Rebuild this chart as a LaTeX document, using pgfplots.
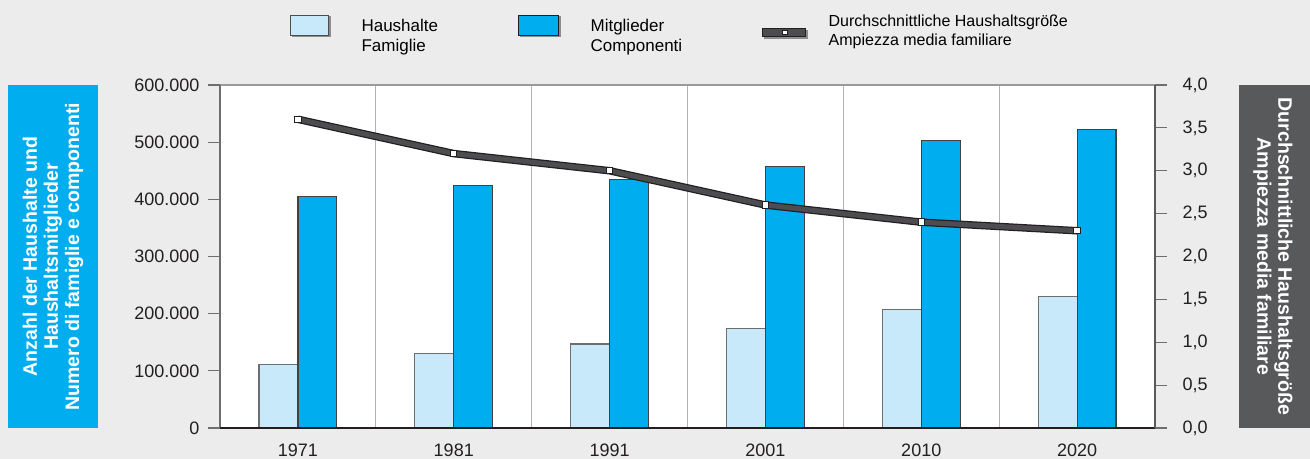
\documentclass[border=0pt]{standalone}
\usepackage{pgfplots}
\pgfplotsset{compat=1.18}
\usepackage{fontspec}
\setmainfont{Liberation Sans}
\definecolor{bg}{HTML}{EBECEB}
\definecolor{lblue}{HTML}{C7E9F9}
\definecolor{dblue}{HTML}{00AEEF}
\definecolor{boxgray}{HTML}{58595B}
\definecolor{linegray}{HTML}{4D4D4F}
\definecolor{txt}{HTML}{231F20}
\definecolor{gridgray}{HTML}{B4B4B4}
\definecolor{tickgray}{HTML}{6D6E70}
\definecolor{topgray}{HTML}{9A9A9A}
\definecolor{shadowc}{HTML}{8C8D8F}

\pgfplotstableread{
x haus mitg
0 111500 405000
1 130700 423700
2 147100 434200
3 173900 457600
4 206600 502500
5 229400 521800
}\bardata
\pgfplotstableread{
x size
0 3.6
1 3.2
2 3.0
3 2.6
4 2.4
5 2.3
}\linedata

\pgfplotsset{
  common/.style={
    at={(220bp,31bp)}, anchor=south west, scale only axis,
    width=935bp, height=343bp, xmin=-0.5, xmax=5.5,
    /pgf/number format/assume math mode=true,
    tick align=outside, major tick length=12bp,
    ticklabel style={font=\fontsize{18bp}{20bp}\selectfont, text=txt},
  }
}

\begin{document}
\begin{tikzpicture}[x=1bp,y=1bp]
\fill[bg] (0,0) rectangle (1310,459);
\useasboundingbox (0,0) rectangle (1310,459);
\fill[dblue] (8,31) rectangle (98,374);
\node[rotate=90, align=center, text=white, font=\fontsize{19.5bp}{21bp}\selectfont\bfseries] at (53,202.5)
  {Anzahl der Haushalte und\\Haushaltsmitglieder\\Numero di famiglie e componenti};
\fill[boxgray] (1239,31) rectangle (1310,374);
\node[rotate=-90, align=center, text=white, font=\fontsize{19.5bp}{21bp}\selectfont\bfseries] at (1273,202.5)
  {Durchschnittliche Haushaltsgröße\\Ampiezza media familiare};

\begin{axis}[common,
  ymin=0, ymax=600000,
  ybar=0pt, bar width=0.25,
  xtick={0,1,2,3,4,5}, xticklabels={1971,1981,1991,2001,2010,2020},
  x tick style={draw=none},
  x tick label style={yshift=0bp},
  minor xtick={0.5,1.5,2.5,3.5,4.5}, xminorgrids,
  minor grid style={draw=gridgray, line width=1.2bp},
  minor tick length=0pt,
  ytick={0,100000,200000,300000,400000,500000,600000},
  scaled y ticks=false,
  yticklabel style={/pgf/number format/.cd, fixed, 1000 sep={.}, /tikz/.cd, xshift=-5bp},
  ytick pos=left,
  y tick style={draw=tickgray, line width=1.2bp},
  axis line style={draw=none},
  axis background/.style={fill=white},
  after end axis/.code={
    \draw[topgray, line width=1.3bp] (rel axis cs:0,1) -- (rel axis cs:1,1);
    \draw[tickgray, line width=1.3bp] (rel axis cs:0,0) -- (rel axis cs:0,1);
    \draw[txt, line width=1.5bp] (rel axis cs:0,0) -- (rel axis cs:1,0);
  },
  legend columns=3,
  legend style={at={(rel axis cs:0.0749,1.2087)}, anchor=north west,
    draw=none, fill=none, inner sep=0pt, outer sep=0pt,
    nodes={inner sep=0pt, outer sep=0pt},
    cells={anchor=base west},
    /tikz/every even column/.append style={column sep=80bp}},
]
\addplot[fill=lblue, draw=tickgray, line width=1.2bp,
  legend image code/.code={
    \fill[shadowc] (1.8bp,-5bp) rectangle (39.8bp,15bp);
    \filldraw[fill=lblue, draw=txt!80, line width=1bp] (0,-3.3bp) rectangle (38bp,16.7bp);
    \path[draw=none, fill=none] (71bp,0) rectangle (0,0.1bp);
  }] table[x=x, y=haus] {\bardata};
\addlegendentry{\fontsize{17bp}{19.5bp}\selectfont\begin{tabular}[t]{@{}l@{}}Haushalte\\Famiglie\end{tabular}}
\addplot[fill=dblue, draw=txt!85, line width=1.2bp,
  legend image code/.code={
    \fill[shadowc] (1.8bp,-5bp) rectangle (41.8bp,15bp);
    \filldraw[fill=dblue, draw=txt, line width=1bp] (0,-3.3bp) rectangle (40bp,16.7bp);
    \path[draw=none, fill=none] (72bp,0) rectangle (0,0.1bp);
  }] table[x=x, y=mitg] {\bardata};
\addlegendentry{\fontsize{17bp}{19.5bp}\selectfont\begin{tabular}[t]{@{}l@{}}Mitglieder\\Componenti\end{tabular}}
\addlegendimage{legend image code/.code={
    \fill[shadowc] (1.5bp,-6bp) rectangle (44.5bp,2bp);
    \filldraw[fill=linegray, draw=txt, line width=0.8bp] (0,-4.8bp) rectangle (43bp,3.2bp);
    \filldraw[fill=white, draw=txt, line width=0.6bp] (20bp,-2.6bp) rectangle (25bp,1.4bp);
    \path[draw=none, fill=none] (66bp,0) rectangle (0,0.1bp);
  }}
\addlegendentry{\raisebox{5bp}{\fontsize{16bp}{19bp}\selectfont\begin{tabular}[t]{@{}l@{}}Durchschnittliche Haushaltsgröße\\Ampiezza media familiare\end{tabular}}}
\end{axis}

\begin{axis}[common,
  ymin=0, ymax=4,
  axis x line=none, axis y line*=right,
  ytick={0,0.5,...,4},
  y tick style={draw=tickgray, line width=1.2bp},
  y axis line style={draw=boxgray, line width=1.3bp},
  yticklabel style={/pgf/number format/.cd, fixed, fixed zerofill, precision=1, use comma, /tikz/.cd, xshift=12bp},
]
\addplot[draw=txt, line width=7.5bp, mark=none] table[x=x, y=size] {\linedata};
\addplot[draw=linegray, line width=5bp, mark=square*,
  mark options={fill=white, draw=txt, line width=1bp, solid}, mark size=3.2bp] table[x=x, y=size] {\linedata};
\end{axis}
\end{tikzpicture}
\end{document}
